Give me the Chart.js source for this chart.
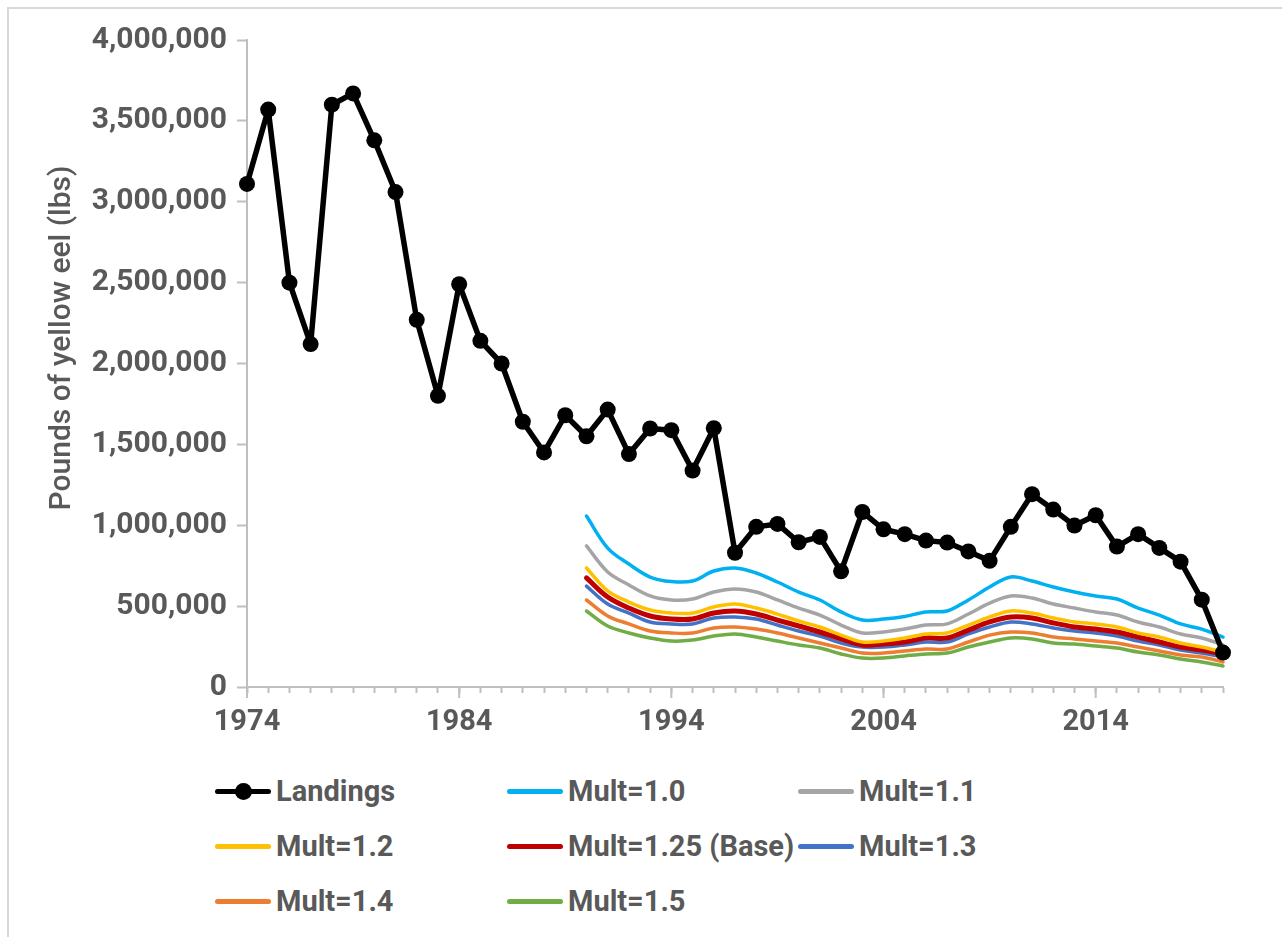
<!DOCTYPE html>
<html>
<head>
<meta charset="utf-8">
<script src="https://cdn.jsdelivr.net/npm/chart.js@4"></script>
<style>
  body { margin: 0; background: #fff; font-family: Roboto, sans-serif; }
  #frame { position: absolute; left: 7px; top: 7px; width: 1400px; height: 1000px;
           border-left: 2px solid #d9d9d9; border-top: 2px solid #d9d9d9; }
  #wrap { position: absolute; left: 0; top: 0; width: 1282px; height: 760px; }
  #legend { position: absolute; left: 0; top: 0; }
  .item { position: absolute; display: flex; align-items: center; height: 40px;
          font: bold 29px Roboto, sans-serif; color: #595959; white-space: nowrap; }
  .swatch { position: relative; width: 56px; height: 5px; border-radius: 3px; margin-right: 5px; }
  .dot { position: absolute; left: 20px; top: -6px; width: 17px; height: 17px; border-radius: 50%; }
</style>
</head>
<body>
<div id="frame"></div>
<div id="wrap"><canvas id="myChart" width="1282" height="760"></canvas></div>
<div id="legend"></div>
<script>
  // landings, 1974-2020
  const years = [1974, 1975, 1976, 1977, 1978, 1979, 1980, 1981, 1982, 1983,
    1984, 1985, 1986, 1987, 1988, 1989, 1990, 1991, 1992, 1993,
    1994, 1995, 1996, 1997, 1998, 1999, 2000, 2001, 2002, 2003,
    2004, 2005, 2006, 2007, 2008, 2009, 2010, 2011, 2012, 2013,
    2014, 2015, 2016, 2017, 2018, 2019, 2020];
  const landings = [3110000, 3570000, 2500000, 2120000, 3600000, 3670000, 3380000, 3060000, 2270000, 1800000,
    2490000, 2140000, 2000000, 1640000, 1450000, 1680000, 1550000, 1715000, 1440000, 1598000,
    1588000, 1338000, 1600000, 830000, 990000, 1008000, 895000, 928000, 715000, 1082000,
    975000, 945000, 905000, 893000, 838000, 780000, 990000, 1192000, 1097000, 998000,
    1062000, 868000, 945000, 860000, 775000, 540000, 213000];

  // model runs, 1990-2020
  const modelYears = [1990, 1991, 1992, 1993, 1994, 1995, 1996, 1997, 1998, 1999,
    2000, 2001, 2002, 2003, 2004, 2005, 2006, 2007, 2008, 2009,
    2010, 2011, 2012, 2013, 2014, 2015, 2016, 2017, 2018, 2019, 2020];
  const mult10 = [1057000, 859000, 760000, 680000, 652000, 655000, 717000, 736000, 705000, 649000,
    587000, 538000, 464000, 414000, 420000, 436000, 464000, 470000, 538000, 618000,
    680000, 655000, 618000, 587000, 563000, 544000, 488000, 445000, 390000, 358000, 309000];
  const mult11 = [872000, 711000, 631000, 563000, 538000, 544000, 587000, 606000, 587000, 538000,
    488000, 445000, 383000, 334000, 340000, 358000, 383000, 390000, 451000, 519000,
    563000, 550000, 513000, 488000, 464000, 445000, 402000, 371000, 328000, 303000, 260000];
  const mult12 = [736000, 594000, 525000, 476000, 457000, 457000, 495000, 513000, 488000, 451000,
    408000, 371000, 321000, 278000, 284000, 303000, 328000, 334000, 383000, 433000,
    470000, 457000, 427000, 402000, 390000, 371000, 334000, 309000, 272000, 247000, 216000];
  const mult125 = [674000, 556000, 488000, 439000, 420000, 420000, 457000, 470000, 451000, 414000,
    377000, 340000, 297000, 260000, 266000, 278000, 303000, 303000, 352000, 402000,
    433000, 427000, 396000, 371000, 358000, 340000, 309000, 278000, 247000, 229000, 204000];
  const mult13 = [624000, 513000, 457000, 402000, 390000, 390000, 427000, 433000, 420000, 383000,
    346000, 315000, 272000, 247000, 247000, 260000, 278000, 278000, 328000, 371000,
    402000, 390000, 365000, 346000, 334000, 315000, 284000, 260000, 229000, 210000, 185000];
  const mult14 = [538000, 439000, 390000, 346000, 334000, 334000, 365000, 371000, 358000, 334000,
    303000, 272000, 241000, 210000, 210000, 223000, 235000, 235000, 278000, 321000,
    340000, 334000, 309000, 297000, 284000, 272000, 247000, 223000, 198000, 185000, 155000];
  const mult15 = [470000, 377000, 334000, 303000, 284000, 290000, 315000, 328000, 309000, 284000,
    260000, 241000, 204000, 179000, 179000, 192000, 204000, 210000, 247000, 278000,
    303000, 297000, 272000, 266000, 253000, 241000, 216000, 198000, 173000, 155000, 130000];

  const yTicks = [0, 500000, 1000000, 1500000, 2000000, 2500000, 3000000, 3500000, 4000000];
  const xLabelYears = [1974, 1984, 1994, 2004, 2014];
  const yTitle = 'Pounds of yellow eel (lbs)';

  const grey = '#595959';
  const axisGrey = '#bfbfbf';

  function pts(xs, ys) {
    return xs.map((x, i) => ({ x: x, y: ys[i] }));
  }

  function modelSet(label, values, color, width) {
    return {
      label: label,
      data: pts(modelYears, values),
      borderColor: color,
      backgroundColor: color,
      borderWidth: width,
      borderJoinStyle: 'round',
      borderCapStyle: 'round',
      pointRadius: 0,
      tension: 0.35,
      clip: false
    };
  }

  const datasets = [
    {
      label: 'Landings',
      data: pts(years, landings),
      borderColor: '#000000',
      backgroundColor: '#000000',
      borderWidth: 5.5,
      borderJoinStyle: 'round',
      pointRadius: 8,
      pointBorderWidth: 0,
      tension: 0,
      clip: false
    },
    modelSet('Mult=1.0', mult10, '#00b0f0', 3.5),
    modelSet('Mult=1.1', mult11, '#a5a5a5', 3.5),
    modelSet('Mult=1.2', mult12, '#ffc000', 3.5),
    modelSet('Mult=1.25 (Base)', mult125, '#c00000', 5),
    modelSet('Mult=1.3', mult13, '#4472c4', 3.5),
    modelSet('Mult=1.4', mult14, '#ed7d31', 3.5),
    modelSet('Mult=1.5', mult15, '#70ad47', 3.5)
  ];

  // longer ticks on the decade years + the rotated y title
  const axisExtras = {
    id: 'axisExtras',
    afterDraw(chart) {
      const ctx = chart.ctx;
      const x = chart.scales.x;
      ctx.save();
      ctx.strokeStyle = axisGrey;
      ctx.lineWidth = 2;
      xLabelYears.forEach(v => {
        const px = x.getPixelForValue(v);
        ctx.beginPath();
        ctx.moveTo(px, x.top);
        ctx.lineTo(px, x.top + 11);
        ctx.stroke();
      });
      ctx.translate(62, 338);
      ctx.rotate(-Math.PI / 2);
      ctx.fillStyle = grey;
      ctx.font = '500 30px Roboto';
      ctx.textAlign = 'center';
      ctx.textBaseline = 'middle';
      ctx.fillText(yTitle, 0, 0);
      ctx.restore();
    }
  };

  const config = {
    type: 'line',
    data: { datasets: datasets },
    plugins: [axisExtras],
    options: {
      responsive: false,
      animation: false,
      events: [],
      layout: { padding: { top: 40, right: 59, bottom: 0, left: 0 } },
      plugins: { legend: { display: false }, tooltip: { enabled: false } },
      scales: {
        x: {
          type: 'linear',
          min: 1974,
          max: 2020,
          afterBuildTicks: (scale) => {
            scale.ticks = years.map(v => ({ value: v }));
          },
          afterFit: (scale) => { scale.height = 73; },
          ticks: {
            autoSkip: false,
            maxRotation: 0,
            padding: 12,
            color: grey,
            font: { family: 'Roboto', size: 29, weight: 'bold' },
            callback: (v) => xLabelYears.includes(v) ? String(v) : ''
          },
          grid: { drawOnChartArea: false, tickLength: 6, tickColor: axisGrey, tickWidth: 2 },
          border: { color: axisGrey, width: 2 }
        },
        y: {
          min: 0,
          max: 4000000,
          afterBuildTicks: (scale) => {
            scale.ticks = yTicks.map(v => ({ value: v }));
          },
          afterFit: (scale) => { scale.width = 247; },
          ticks: {
            padding: 10,
            color: grey,
            font: { family: 'Roboto', size: 30, weight: 'bold' },
            callback: (v) => v.toLocaleString('en-US')
          },
          grid: { drawOnChartArea: false, tickLength: 10, tickColor: axisGrey, tickWidth: 2 },
          border: { color: axisGrey, width: 2 }
        }
      }
    }
  };

  const myChart = new Chart(document.getElementById('myChart'), config);

  // legend in three columns like the original
  const legendCols = [215, 507, 798];
  const legendRows = [791, 846, 901];
  const legend = document.getElementById('legend');
  datasets.forEach((ds, i) => {
    const item = document.createElement('div');
    item.className = 'item';
    item.style.left = legendCols[i % 3] + 'px';
    item.style.top = (legendRows[Math.floor(i / 3)] - 20) + 'px';
    const sw = document.createElement('div');
    sw.className = 'swatch';
    sw.style.background = ds.borderColor;
    if (ds.pointRadius > 0) {
      const dot = document.createElement('div');
      dot.className = 'dot';
      dot.style.background = ds.borderColor;
      sw.appendChild(dot);
    }
    item.appendChild(sw);
    item.appendChild(document.createTextNode(ds.label));
    legend.appendChild(item);
  });
</script>
</body>
</html>
